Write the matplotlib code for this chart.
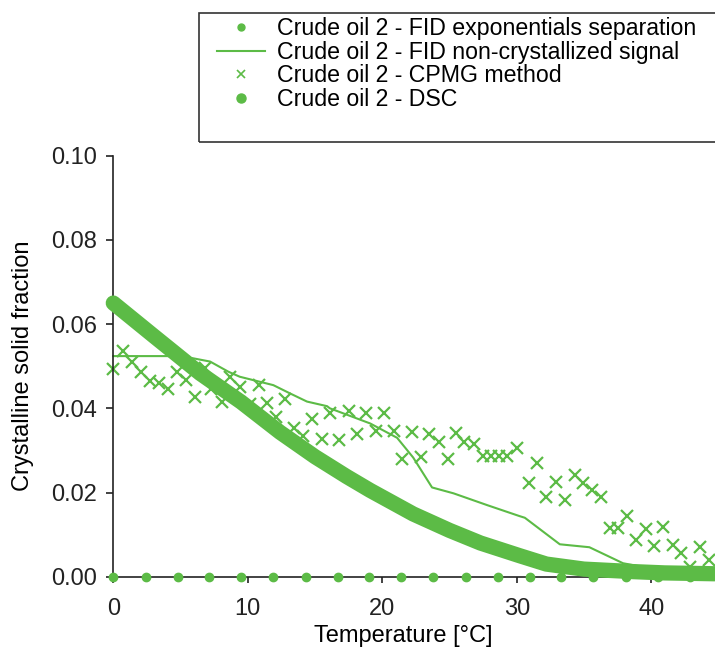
import matplotlib
matplotlib.use("Agg")
import matplotlib.pyplot as plt
from matplotlib.lines import Line2D
from matplotlib.patches import Rectangle

plt.rcParams["font.family"] = ["Liberation Sans", "DejaVu Sans"]

green = "#5cbb46"

# FID exponentials separation (all zero)
fid_exp_t = [0, 2.4, 4.8, 7.1, 9.5, 11.9, 14.3, 16.7, 19.0, 21.4, 23.8, 26.2,
             28.6, 31.0, 33.3, 35.7, 38.1, 40.5, 42.9]
fid_exp_y = [0.0] * len(fid_exp_t)

# FID non-crystallized signal
fid_nc_t = [0, 4.2, 5.9, 7.2, 8.55, 9.4, 10.9, 11.9, 13.1, 14.4, 15.9, 16.1,
            19.1, 21.1, 22.3, 23.7, 25.3, 27.8, 30.2, 30.6, 33.2, 35.4, 37.9,
            39.9, 42.1, 44.7]
fid_nc_y = [0.0524, 0.0524, 0.0519, 0.0511, 0.0487, 0.0475, 0.0463, 0.0455,
            0.0436, 0.0416, 0.0405, 0.0400, 0.0364, 0.0330, 0.0283, 0.0212,
            0.0198, 0.0170, 0.0144, 0.0140, 0.0077, 0.0070, 0.0032, 0.0020,
            0.0016, 0.0012]

# CPMG method
cpmg_t = [0, 0.7, 1.37, 2.04, 2.73, 3.4, 4.09, 4.76, 5.4, 6.07, 6.8, 7.3, 8.06,
          8.7, 9.4, 10.2, 10.8, 11.4, 12.1, 12.8, 13.4, 14.1, 14.8, 15.5, 16.1,
          16.8, 17.5, 18.1, 18.8, 19.5, 20.1, 20.9, 21.5, 22.2, 22.9, 23.5,
          24.2, 24.9, 25.5, 26.1, 26.8, 27.5, 28.1, 28.7, 29.3, 30.0, 30.9,
          31.5, 32.2, 32.9, 33.6, 34.3, 34.9, 35.6, 36.3, 36.9, 37.5, 38.2,
          38.9, 39.6, 40.2, 40.9, 41.6, 42.2, 42.9, 43.6, 44.3]
cpmg_y = [0.0493, 0.0536, 0.0511, 0.0487, 0.0466, 0.0459, 0.0445, 0.0487,
          0.0467, 0.0428, 0.0495, 0.0447, 0.0416, 0.0475, 0.0451, 0.0410,
          0.0455, 0.0413, 0.0379, 0.0421, 0.0353, 0.0334, 0.0374, 0.0327,
          0.0388, 0.0325, 0.0393, 0.0340, 0.0390, 0.0347, 0.0390, 0.0347,
          0.0280, 0.0343, 0.0285, 0.0338, 0.0320, 0.0279, 0.0341, 0.0319,
          0.0316, 0.0286, 0.0287, 0.0287, 0.0287, 0.0306, 0.0222, 0.0269,
          0.0189, 0.0224, 0.0182, 0.0242, 0.0223, 0.0206, 0.0190, 0.0115,
          0.0115, 0.0145, 0.0087, 0.0113, 0.0073, 0.0119, 0.0075, 0.0056,
          0.0024, 0.0071, 0.0040]

# DSC
dsc_t = [0, 3, 6.45, 9.5, 12.4, 15, 17.35, 19.1, 22.3, 25, 27.3, 30.2, 32.2,
         35, 38.7, 41, 44.7]
dsc_y = [0.0650, 0.0572, 0.0483, 0.0415, 0.0343, 0.0285, 0.0238, 0.0205,
         0.0149, 0.0110, 0.0080, 0.0050, 0.0030, 0.0018, 0.0012, 0.0009, 0.0007]

labels = ["Crude oil 2 - FID exponentials separation",
          "Crude oil 2 - FID non-crystallized signal",
          "Crude oil 2 - CPMG method",
          "Crude oil 2 - DSC"]

W, H = 715, 662
fig = plt.figure(figsize=(W / 100, H / 100), dpi=100)
x0, x1, y0, y1 = 113.3, 715, 155.7, 576.7
ax = fig.add_axes([x0 / W, (H - y1) / H, (x1 - x0) / W, (y1 - y0) / H])

ax.plot(fid_exp_t, fid_exp_y, "o", color=green, ms=6, clip_on=False, zorder=3)
ax.plot(fid_nc_t, fid_nc_y, "-", color=green, lw=1.5, clip_on=False, zorder=2)
ax.plot(cpmg_t, cpmg_y, "x", color=green, ms=8, mew=1.6, clip_on=False, zorder=2)
ax.plot(dsc_t, dsc_y, "-", color=green, lw=11, solid_capstyle="round",
        clip_on=False, zorder=4)

ax.set_xlim(0, 44.74)
ax.set_ylim(0, 0.10)
ax.set_xticks([0, 10, 20, 30, 40])
ax.set_yticks([0, 0.02, 0.04, 0.06, 0.08, 0.10])
ax.set_yticklabels([f"{v:.2f}" for v in [0, 0.02, 0.04, 0.06, 0.08, 0.10]])

for s in ["top", "right"]:
    ax.spines[s].set_visible(False)
for s in ["left", "bottom"]:
    ax.spines[s].set_linewidth(1.2)
    ax.spines[s].set_color("#222222")
ax.tick_params(axis="both", labelsize=17, colors="#222222", width=1.2)
ax.tick_params(axis="y", length=5, pad=7)
ax.tick_params(axis="x", length=4, pad=11)

ax.set_xlabel("Temperature [°C]", fontsize=17)
ax.xaxis.label.set_verticalalignment("center")
ax.xaxis.set_label_coords((403 - x0) / (x1 - x0), -(636 - y1) / (y1 - y0))
ax.set_ylabel("Crystalline solid fraction", fontsize=17)
ax.yaxis.label.set_verticalalignment("center")
ax.yaxis.set_label_coords((23 - x0) / (x1 - x0), 0.5)

handles = [
    Line2D([], [], ls="none", marker="o", color=green, ms=5),
    Line2D([], [], ls="-", color=green, lw=1.5),
    Line2D([], [], ls="none", marker="x", color=green, ms=6, mew=1.2),
    Line2D([], [], ls="none", marker="o", color=green, ms=6.5),
]
fig.legend(handles, labels, loc="upper left",
           bbox_to_anchor=(217 / W, 1 - 17 / H), bbox_transform=fig.transFigure,
           frameon=False, fontsize=16.7, borderpad=0, borderaxespad=0,
           handlelength=2.05, handletextpad=0.55, labelspacing=0.03)
fig.add_artist(Rectangle((199.3 / W, 1 - 142.3 / H), (730 - 199.3) / W,
                         (142.3 - 13.3) / H, transform=fig.transFigure,
                         fill=False, edgecolor="#333333", lw=1.2, clip_on=False))

fig.savefig("out.png", dpi=100)
